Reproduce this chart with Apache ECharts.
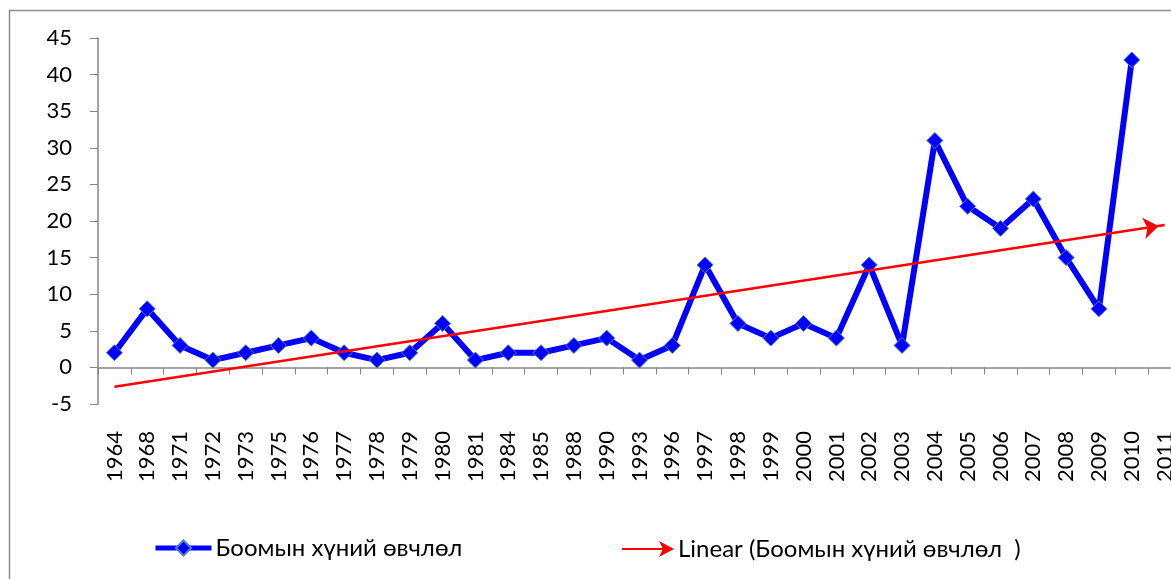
<!DOCTYPE html>
<html>
<head>
<meta charset="utf-8">
<script src="https://cdn.jsdelivr.net/npm/echarts@6/dist/echarts.min.js"></script>
<style>
  html, body { margin: 0; padding: 0; background: #fff; }
  #chart { width: 1171px; height: 579px; }
</style>
</head>
<body>
<div id="chart"></div>
<script>
const years = ['1964', '1968', '1971', '1972', '1973', '1975', '1976', '1977', '1978', '1979',
  '1980', '1981', '1984', '1985', '1988', '1990', '1993', '1996', '1997', '1998', '1999',
  '2000', '2001', '2002', '2003', '2004', '2005', '2006', '2007', '2008', '2009', '2010', '2011']
const cases = [2, 8, 3, 1, 2, 3, 4, 2, 1, 2,
  6, 1, 2, 2, 3, 4, 1, 3, 14, 6, 4,
  6, 4, 14, 3, 31, 22, 19, 23, 15, 8, 42, null]
// trend line ends (first and last category)
const trendStart = -2.65
const trendEnd = 19.45
const yTicks = { min: -5, max: 45, step: 5 }

const seriesName = 'Боомын хүний өвчлөл'
const trendName = 'Linear (Боомын хүний өвчлөл  )'
const font = 'Lato, "Open Sans", sans-serif'

const trendData = years.map((_, i) => {
  if (i === 0) return trendStart
  if (i === years.length - 1) {
    return { value: trendEnd, symbol: 'arrow', symbolSize: [16, 15], symbolRotate: -81, symbolOffset: [-6, 1] }
  }
  return null
})

const chart = echarts.init(document.getElementById('chart'))
const option = {
  animation: false,
  backgroundColor: '#fff',
  graphic: [{
    type: 'rect',
    left: 7, top: 8,
    shape: { width: 1300, height: 700 },
    style: { fill: 'none', stroke: '#8c8c8c', lineWidth: 1.5 },
    silent: true,
  }],
  grid: { left: 98, top: 38, width: 1083, height: 366, outerBoundsMode: 'none', containLabel: false },
  legend: [
    {
      left: 153, top: 536, padding: 0,
      itemWidth: 56, itemHeight: 19,
      textStyle: { fontFamily: font, fontSize: 24, color: '#000', padding: [0, 0, 0, -1] },
      data: [{ name: seriesName, lineStyle: { width: 5 } }],
    },
    {
      left: 622, top: 537, padding: 0,
      itemWidth: 52, itemHeight: 16,
      textStyle: { fontFamily: font, fontSize: 24, color: '#000', padding: [0, 0, 0, -1] },
      data: [{ name: trendName, icon: 'path://M0,7 L44,7 L44,9 L0,9 Z M37,0 L52,8 L37,16 L41,8 Z' }],
    },
  ],
  xAxis: {
    type: 'category',
    data: years,
    boundaryGap: true,
    axisLine: { onZero: true, lineStyle: { color: '#868686', width: 1.5 } },
    axisTick: { show: true, length: 7, lineStyle: { color: '#868686' } },
    axisLabel: {
      rotate: 90, interval: 0, margin: 27,
      fontFamily: font, fontSize: 22, color: '#000',
    },
    splitLine: { show: false },
  },
  yAxis: {
    type: 'value',
    min: yTicks.min, max: yTicks.max, interval: yTicks.step,
    axisLine: { show: true, lineStyle: { color: '#868686', width: 1.5 } },
    axisTick: { show: true, length: 8, lineStyle: { color: '#868686' } },
    axisLabel: { margin: 26, fontFamily: font, fontSize: 22, color: '#000' },
    splitLine: { show: false },
  },
  series: [
    {
      name: seriesName,
      type: 'line',
      data: cases,
      symbol: 'diamond',
      symbolSize: 16,
      lineStyle: { color: '#0000ff', width: 6 },
      itemStyle: { color: '#0000ff', borderColor: '#4f81bd', borderWidth: 1 },
      z: 3,
    },
    {
      name: trendName,
      type: 'line',
      data: trendData,
      connectNulls: true,
      symbol: 'none',
      lineStyle: { color: '#ff0000', width: 2.5 },
      itemStyle: { color: '#ff0000' },
      z: 4,
    },
  ],
}
chart.setOption(option)
</script>
</body>
</html>
